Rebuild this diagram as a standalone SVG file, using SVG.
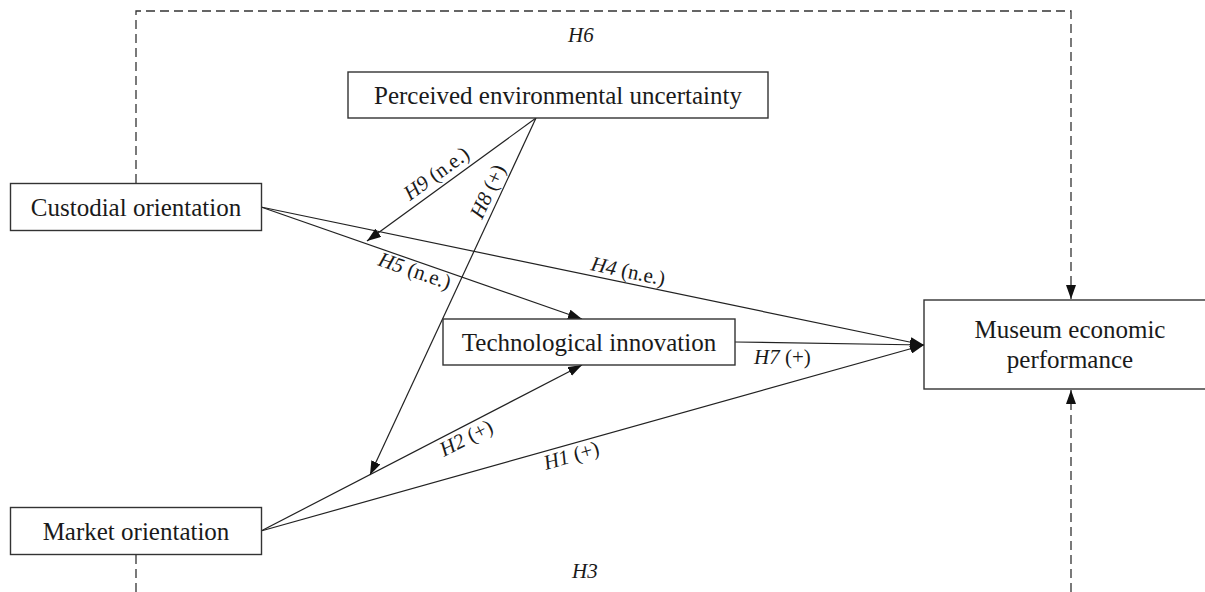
<svg xmlns="http://www.w3.org/2000/svg" width="1205" height="592" viewBox="0 0 1205 592">
<style>
.box{fill:#fff;stroke:#333;stroke-width:1.4}
.lbl{font-family:"Liberation Serif","Times New Roman",serif;font-size:25px;fill:#1a1a1a}
.hy{font-family:"Liberation Serif","Times New Roman",serif;font-size:21px;fill:#1a1a1a}
.it{font-style:italic}
.ln{fill:none;stroke:#222;stroke-width:1.2}
.dash{fill:none;stroke:#333;stroke-width:1.3;stroke-dasharray:9,5}
</style>
<defs>
<marker id="ah" viewBox="0 0 14 10" refX="14" refY="5" markerWidth="14" markerHeight="10" orient="auto" markerUnits="userSpaceOnUse">
<path d="M0,0 L14,5 L0,10 z" fill="#111"/>
</marker>
</defs>
<g id="connectors">
<path class="dash" d="M136,183 V11 H1071 V299" marker-end="url(#ah)"/>
<path class="dash" d="M136,555 V592"/>
<path class="dash" d="M1071,592 V390" marker-end="url(#ah)"/>
<line class="ln" x1="261" y1="207" x2="924" y2="345" marker-end="url(#ah)"/>
<line class="ln" x1="261" y1="207" x2="582" y2="319" marker-end="url(#ah)"/>
<line class="ln" x1="536" y1="118" x2="367" y2="241" marker-end="url(#ah)"/>
<line class="ln" x1="536" y1="118" x2="370" y2="475" marker-end="url(#ah)"/>
<line class="ln" x1="261" y1="531" x2="582" y2="365" marker-end="url(#ah)"/>
<line class="ln" x1="261" y1="531" x2="924" y2="345" marker-end="url(#ah)"/>
<line class="ln" x1="735" y1="342" x2="924" y2="345" marker-end="url(#ah)"/>
<text class="hy" transform="translate(410,201) rotate(-36)"><tspan class="it">H9</tspan> (n.e.)</text>
<text class="hy" transform="translate(482,220) rotate(-65)"><tspan class="it">H8</tspan> (+)</text>
<text class="hy" transform="translate(377,265) rotate(19)"><tspan class="it">H5</tspan> (n.e.)</text>
<text class="hy" transform="translate(590,270) rotate(12)"><tspan class="it">H4</tspan> (n.e.)</text>
<text class="hy" transform="translate(444,457) rotate(-27)"><tspan class="it">H2</tspan> (+)</text>
<text class="hy" transform="translate(546,470) rotate(-16)"><tspan class="it">H1</tspan> (+)</text>
<text class="hy" x="754" y="364"><tspan class="it">H7</tspan> (+)</text>
<text class="hy it" x="568" y="42">H6</text>
<text class="hy it" x="572" y="578">H3</text>
</g>
<g id="custodial">
<rect class="box" x="10.5" y="183.5" width="251" height="47"/>
<text class="lbl" x="136" y="216" text-anchor="middle">Custodial orientation</text>
</g>
<g id="perceived">
<rect class="box" x="348" y="72" width="420" height="46"/>
<text class="lbl" x="558" y="103.5" text-anchor="middle">Perceived environmental uncertainty</text>
</g>
<g id="technological">
<rect class="box" x="443" y="319" width="292" height="46"/>
<text class="lbl" x="589" y="351" text-anchor="middle">Technological innovation</text>
</g>
<g id="market">
<rect class="box" x="10.5" y="507.5" width="251" height="47"/>
<text class="lbl" x="136" y="539.5" text-anchor="middle">Market orientation</text>
</g>
<g id="museum">
<rect class="box" x="924" y="300" width="290" height="89"/>
<text class="lbl" x="1070" y="338" text-anchor="middle">Museum economic</text>
<text class="lbl" x="1070" y="368" text-anchor="middle">performance</text>
</g>
</svg>
